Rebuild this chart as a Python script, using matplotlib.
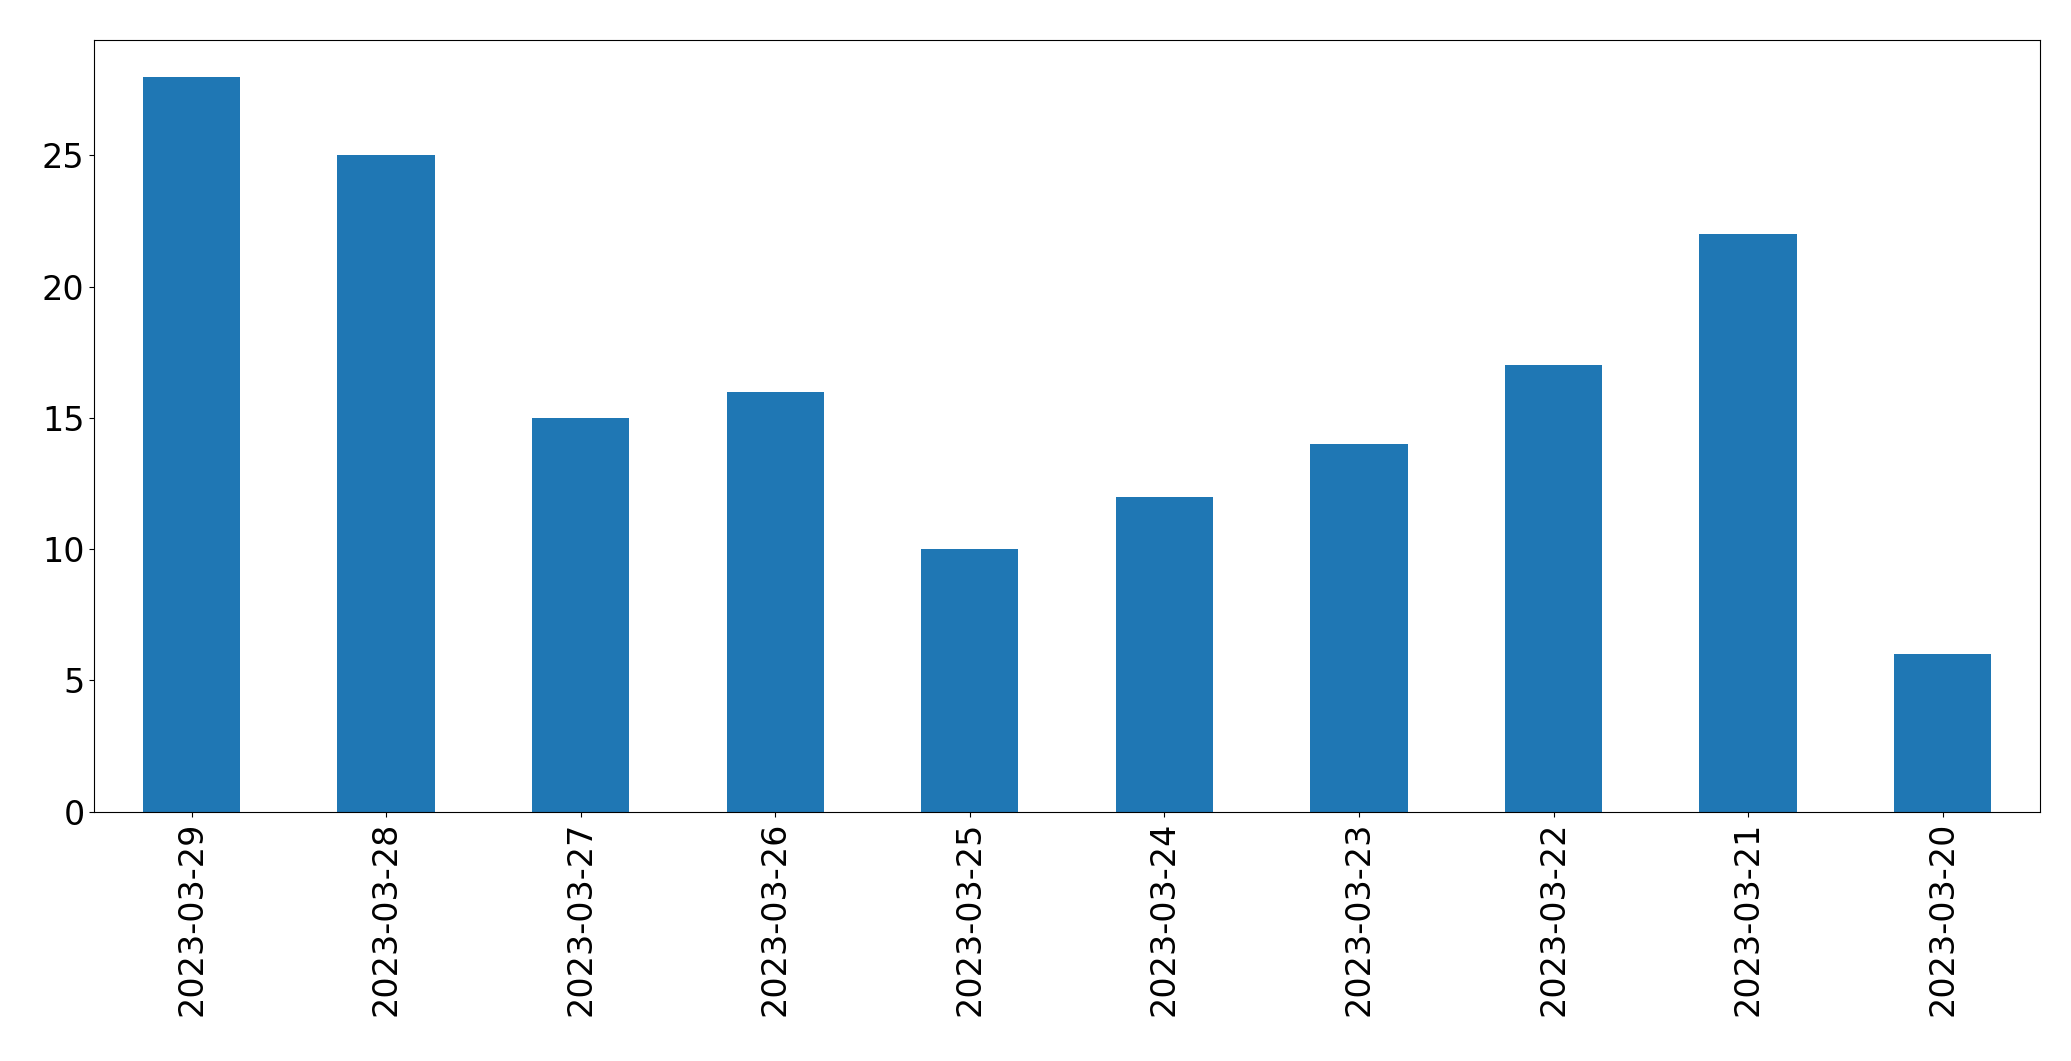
import matplotlib

matplotlib.use("Agg")
import matplotlib.pyplot as plt
import pandas as pd

dates = ["2023-03-29", "2023-03-28", "2023-03-27", "2023-03-26", "2023-03-25",
         "2023-03-24", "2023-03-23", "2023-03-22", "2023-03-21", "2023-03-20"]
counts = [28, 25, 15, 16, 10, 12, 14, 17, 22, 6]

series = pd.Series(counts, index=dates)

fig = plt.figure(figsize=(20.71, 10.61), dpi=100)
ax = fig.add_axes([0.0455, 0.235, 0.9395, 0.7275])
series.plot(kind="bar", ax=ax, color="#1f77b4", width=0.5)
ax.tick_params(axis="both", labelsize=24)
ax.tick_params(axis="x", rotation=90)
fig.savefig("out.png")
plt.close(fig)
